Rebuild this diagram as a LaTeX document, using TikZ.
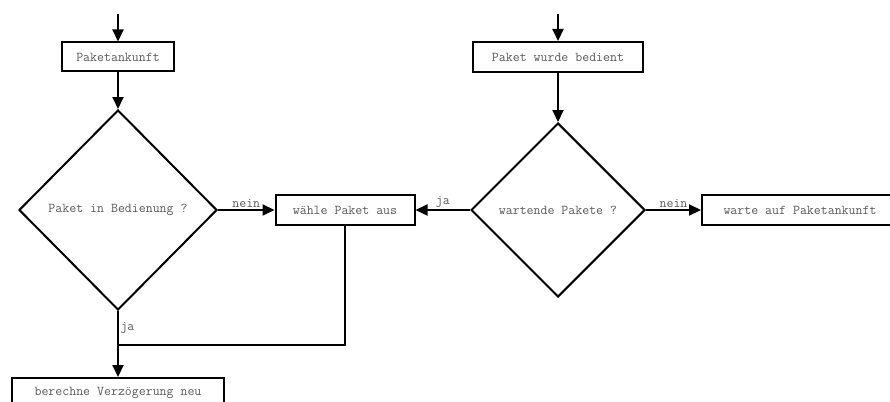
\documentclass[tikz,border=0pt]{standalone}
\usepackage{fontspec}
\usetikzlibrary{arrows.meta,positioning,shapes.geometric}
\tikzset{
  txt/.style={font=\ttfamily\fontsize{13.5}{15}\selectfont, text=black!65},
  blk/.style={draw, rectangle, line width=2pt, minimum height=29pt, inner sep=0pt, align=center, txt},
  diam/.style={draw, diamond, line width=2pt, inner sep=0pt, align=center, txt},
  lbl/.style={txt, inner sep=1.5pt},
  arr/.style={-{Triangle[length=12pt, width=11pt]}, line width=2pt},
  ln/.style={line width=2pt},
}

\begin{document}
\begin{tikzpicture}[x=1pt, y=-1pt]
\useasboundingbox (0,0) rectangle (890,401);

% left branch: packet arrives
\coordinate (inL) at (118,14);
\node[blk, minimum width=112pt] (ank) at (118,57) {Paketankunft};
\node[diam, minimum width=198pt, minimum height=200pt] (qbed) at (118,210) {Paket in Bedienung ?};
\node[blk, minimum width=139pt, minimum height=30pt] (sel) at (345,210) {wähle Paket aus};
\node[blk, minimum width=212pt, minimum height=30pt] (calc) at (118,393) {berechne Verzögerung neu};
\coordinate (join) at (118,345);

% right branch: packet served
\coordinate (inR) at (558,14);
\node[blk, minimum width=170pt, minimum height=30pt] (done) at (558,57) {Paket wurde bedient};
\node[diam, minimum width=174pt, minimum height=174pt] (qwait) at (558,210) {wartende Pakete ?};
\node[blk, minimum width=196pt, minimum height=30pt] (wait) at (800,210) {warte auf Paketankunft};

% connectors
\draw[arr] (inL) -- (ank);
\draw[arr] (ank) -- (qbed);
\draw[arr] (qbed) -- node[lbl, above] {nein} (sel);
\draw[arr] (qbed.south) -- node[lbl, pos=0.26, right] {ja} (calc.north);
\draw[ln] (sel.south) |- (join);

\draw[arr] (inR) -- (done);
\draw[arr] (done) -- (qwait);
\draw[arr] (qwait) -- node[lbl, above] {ja} (sel);
\draw[arr] (qwait) -- node[lbl, above] {nein} (wait);

\end{tikzpicture}
\end{document}
